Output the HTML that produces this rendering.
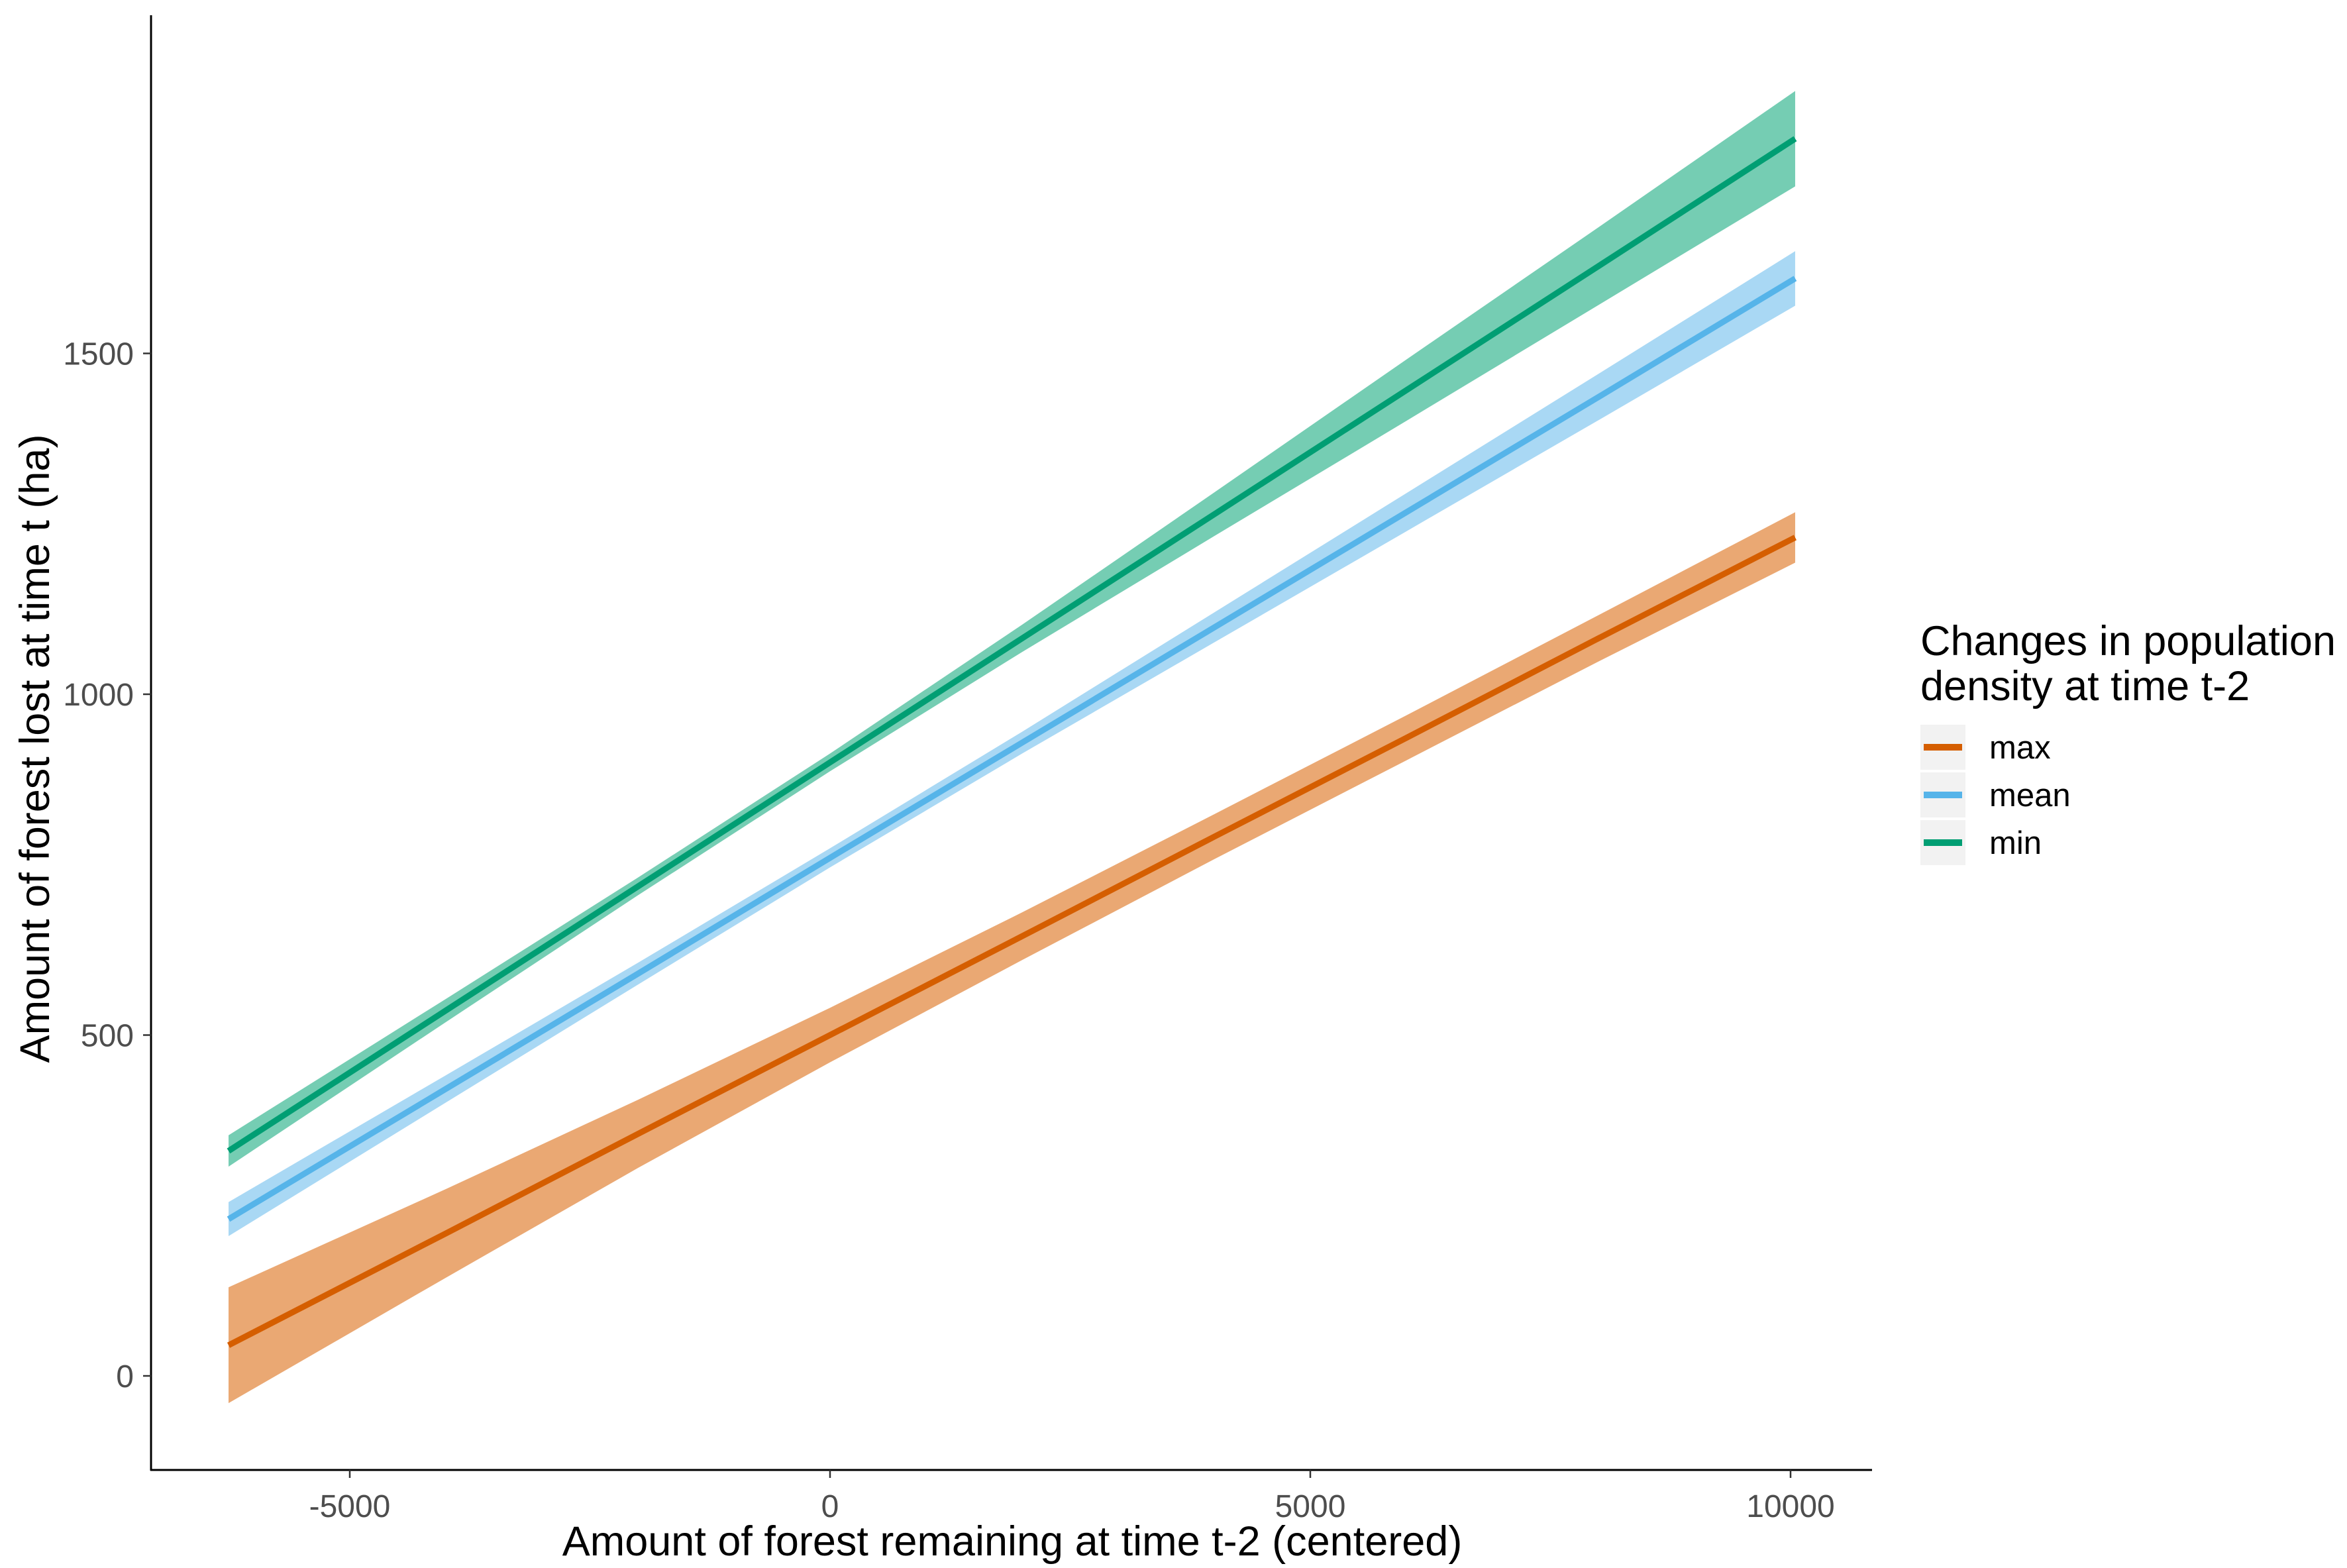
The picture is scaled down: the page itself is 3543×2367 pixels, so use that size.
<!DOCTYPE html>
<html><head><meta charset="utf-8"><style>
body{margin:0;background:#fff;}
svg text{font-family:"Liberation Sans",sans-serif;}
</style></head><body>
<svg id="chart" width="3543" height="2362" viewBox="0 0 3543 2362" xmlns="http://www.w3.org/2000/svg">
<rect width="3543" height="2362" fill="#fff"/>
<g id="bands"></g><g id="lines"></g><g id="axes"></g>
<text x="1528" y="2348" font-size="63" text-anchor="middle" fill="#000">Amount of forest remaining at time t-2 (centered)</text>
<text transform="translate(74,1130) rotate(-90)" font-size="63" text-anchor="middle" fill="#000">Amount of forest lost at time t (ha)</text>
<g>
<text x="2899" y="989" font-size="63" fill="#000">Changes in population</text>
<text x="2899" y="1057" font-size="63" fill="#000">density at time t-2</text>
<g id="legend-items"></g>
</g>
</svg>
<script>
const xs = [-6262, -4000, -2000, 0, 2000, 4000, 6000, 8000, 10048];
const seriesNames = ["max", "mean", "min"];
const maxFit = [45, 209, 355, 500, 645, 791, 936, 1082, 1230];
const maxLo = [-40, 144, 305, 460, 610, 758, 903, 1048, 1193];
const maxHi = [130, 274, 405, 540, 680, 824, 969, 1116, 1267];
const meanFit = [230, 421, 590, 760, 929, 1098, 1267, 1436, 1610];
const meanLo = [205, 401, 574, 746, 913, 1076, 1239, 1402, 1570];
const meanHi = [255, 441, 606, 774, 945, 1120, 1295, 1470, 1650];
const minFit = [330, 536, 718, 900, 1082, 1264, 1446, 1628, 1815];
const minLo = [307, 519, 705, 887, 1062, 1232, 1401, 1571, 1745];
const minHi = [353, 553, 731, 913, 1102, 1296, 1491, 1685, 1885];
const xTicks = [-5000, 0, 5000, 10000];
const yTicks = [0, 500, 1000, 1500];

const NS = "http://www.w3.org/2000/svg";
function sx(v){ return 1253 + v * (1450/10000); }
function sy(v){ return 2077 - v * (514.5/500); }
function mk(tag, attrs, parent){ const e=document.createElementNS(NS,tag); for(const k in attrs) e.setAttribute(k,attrs[k]); parent.appendChild(e); return e; }

const series = [
 {name:"max", fit:maxFit, lo:maxLo, hi:maxHi, line:"#D55E00", band:"#EAA873"},
 {name:"mean", fit:meanFit, lo:meanLo, hi:meanHi, line:"#56B4E9", band:"#A9D8F4"},
 {name:"min", fit:minFit, lo:minLo, hi:minHi, line:"#009E73", band:"#75CDB3"}
];
const bands = document.getElementById("bands"), lines = document.getElementById("lines"), axes = document.getElementById("axes");
series.forEach(s=>{
  let pts = xs.map((x,i)=>sx(x)+","+sy(s.hi[i]));
  pts = pts.concat(xs.map((x,i)=>sx(x)+","+sy(s.lo[i])).reverse());
  const b = mk("polygon",{points:pts.join(" "),fill:s.band},bands);
  
  
  const l = mk("polyline",{points:xs.map((x,i)=>sx(x)+","+sy(s.fit[i])).join(" "),fill:"none",stroke:s.line,"stroke-width":9},lines);
  
  
});
const ya = mk("line",{x1:228,y1:23,x2:228,y2:2220,stroke:"#000","stroke-width":3},axes);


const xa = mk("line",{x1:227,y1:2219,x2:2826,y2:2219,stroke:"#000","stroke-width":3},axes);


xTicks.forEach(t=>{
  const tk = mk("line",{x1:sx(t),y1:2219,x2:sx(t),y2:2231,stroke:"#333","stroke-width":2.5},axes);
  
  
  const tx = mk("text",{x:sx(t),y:2290,"font-size":48,"text-anchor":"middle",fill:"#4D4D4D"},axes);
  tx.textContent = t;
  
  
});
yTicks.forEach(t=>{
  const tk = mk("line",{x1:216,y1:sy(t),x2:228,y2:sy(t),stroke:"#333","stroke-width":2.5},axes);
  
  
  const tx = mk("text",{x:202,y:sy(t)+17,"font-size":48,"text-anchor":"end",fill:"#4D4D4D"},axes);
  tx.textContent = t;
  
  
});
const li = document.getElementById("legend-items");
series.forEach((s,i)=>{
  const y0 = 1094 + i*72;
  const bg = mk("rect",{x:2899,y:y0,width:68,height:68,fill:"#F2F2F2"},li);
  
  
  const sw = mk("rect",{x:2904,y:y0+29,width:58,height:10,fill:s.line},li);
  
  
  const tx = mk("text",{x:3003,y:y0+51,"font-size":49,fill:"#000"},li);
  tx.textContent = seriesNames[i];
  
  
});
</script>
</body></html>
